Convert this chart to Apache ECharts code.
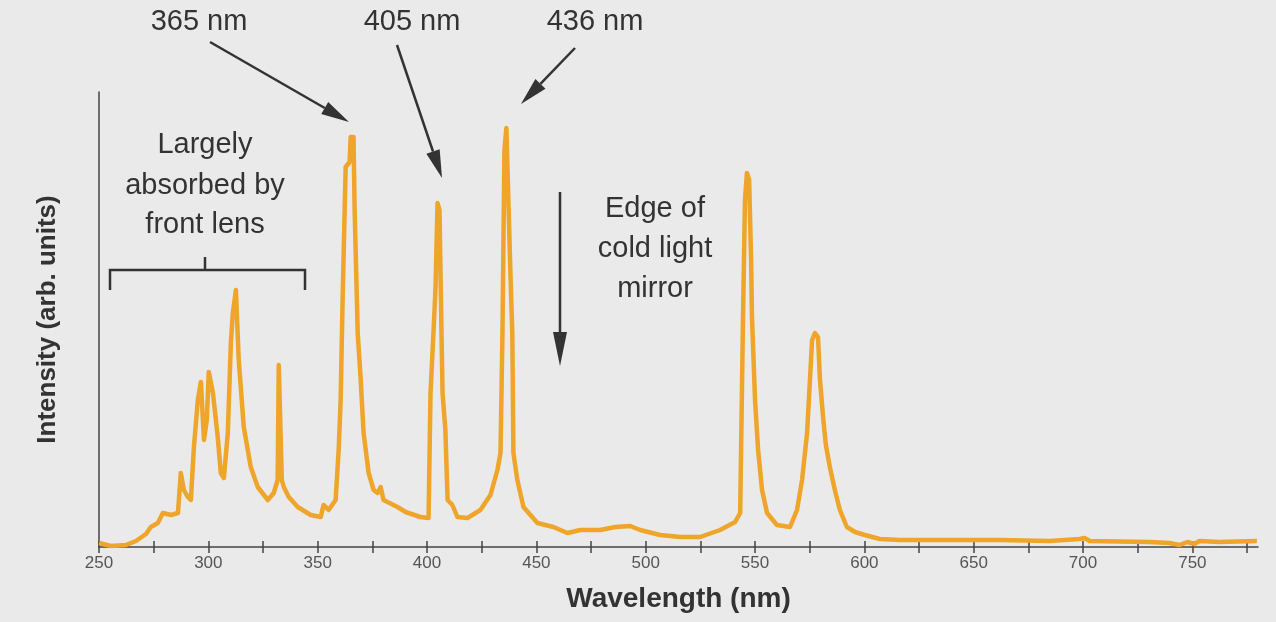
<!DOCTYPE html>
<html>
<head>
<meta charset="utf-8">
<script src="https://cdn.jsdelivr.net/npm/echarts@6/dist/echarts.min.js"></script>
<style>
  html, body { margin: 0; padding: 0; background: #eaeaea; }
  #chart { width: 1276px; height: 622px; }
</style>
</head>
<body>
<div id="chart"></div>
<script>
// wavelength (nm) of each sample
var wavelength = [250, 255.5, 262.3, 266.9, 271.5, 273.7, 276.9, 279.2, 282.9, 286.1, 287.4, 288.8, 290.6, 292, 293.4,
  295.2, 296.6, 298, 299.3, 300.2, 302.1, 304.3, 305.7, 307.1, 308.9, 310.3, 311.2, 312.6, 313.9, 316.2,
  319.4, 322.6, 327.2, 329.9, 331.7, 332.2, 333.6, 334.5, 336.8, 340.9, 346.8, 351.4, 352.7, 355, 358.2,
  359.6, 360.5, 361.4, 362.3, 362.8, 364.6, 365.1, 366.4, 366.9, 368.3, 369.6, 371, 373.3, 375.6, 377.4,
  378.8, 380.1, 386.5, 390.2, 397, 400.7, 401.6, 403, 403.9, 404.8, 405.7, 406.6, 407.1, 408.4, 409.4,
  411.6, 413.9, 418.5, 424.4, 429, 432.2, 433.6, 434.5, 435.4, 436.3, 437.2, 438.1, 439, 439.5, 441.3,
  444.1, 447.3, 450.5, 457.8, 464.2, 470.1, 479.2, 486.1, 492.9, 497.5, 506.6, 515.8, 524.9, 534, 540.9,
  543.2, 544.5, 545.4, 546.3, 547.3, 548.2, 548.6, 550, 551.4, 553.2, 555.5, 560, 566, 569.2, 571.5,
  573.8, 575.6, 576.1, 577.4, 578.8, 579.7, 581.1, 582.4, 584.2, 586.5, 588.8, 592, 595.7, 600.2, 607.1,
  616.2, 639, 661.9, 684.7, 698.4, 700.7, 703, 730.4, 739.5, 744.1, 747.7, 750.9, 753.2, 762.3, 779.5];

// intensity (arb. units) at each wavelength
var intensity = [4, 1, 2, 6, 13, 20, 24, 34, 32, 34, 74, 57, 50, 47, 100,
  147, 165, 107, 127, 175, 154, 110, 74, 69, 114, 204, 234, 257, 187, 120,
  80, 60, 47, 54, 67, 182, 67, 60, 50, 40, 32, 30, 42, 37, 47,
  97, 147, 247, 334, 380, 385, 410, 410, 337, 214, 170, 114, 74, 57, 54,
  60, 47, 40, 35, 30, 29, 154, 217, 260, 344, 337, 217, 154, 117, 47,
  42, 30, 29, 37, 52, 77, 94, 214, 397, 419, 347, 277, 214, 94, 67,
  40, 32, 24, 20, 14, 17, 17, 20, 21, 17, 12, 10, 10, 17, 25,
  34, 230, 347, 374, 367, 287, 230, 147, 97, 57, 34, 22, 20, 37, 67,
  114, 187, 207, 214, 210, 167, 130, 102, 80, 57, 37, 20, 15, 12, 8,
  7, 7, 7, 6, 8, 9, 6, 5, 4, 2, 5, 3, 6, 5, 6];

var tickValues = [250, 275, 300, 325, 350, 375, 400, 425, 450, 475, 500, 525, 550, 575, 600, 625, 650, 675, 700, 725, 750, 775];
var labelValues = [250, 300, 350, 400, 450, 500, 550, 600, 650, 700, 750];

var ink = '#333333';
var txtFont = "'Liberation Sans Narrow', 'Liberation Sans', Arial, sans-serif";

function arrow(x1, y1, x2, y2, headLen, headW) {
  var dx = x2 - x1, dy = y2 - y1;
  var len = Math.sqrt(dx * dx + dy * dy);
  var ux = dx / len, uy = dy / len;
  var bx = x2 - ux * headLen, by = y2 - uy * headLen;
  return [
    { type: 'line', shape: { x1: x1, y1: y1, x2: bx, y2: by }, style: { stroke: ink, lineWidth: 2.5 } },
    { type: 'polygon', shape: { points: [[x2, y2], [bx - uy * headW / 2, by + ux * headW / 2], [bx + uy * headW / 2, by - ux * headW / 2]] },
      style: { fill: ink } }
  ];
}

function label(x, y, t) {
  return { type: 'text', x: x, y: y, style: { text: t, font: '29px ' + txtFont, fill: ink, align: 'center', verticalAlign: 'middle' } };
}

var graphics = [].concat(
  arrow(210, 42, 349, 122, 28, 14),
  arrow(397, 45, 442, 178, 28, 14),
  arrow(575, 48, 521, 104, 28, 14),
  arrow(560, 192, 560, 366, 34, 14),
  [
    { type: 'polyline', shape: { points: [[110, 290], [110, 270], [305, 270], [305, 290]] }, style: { stroke: ink, lineWidth: 2.5, fill: null } },
    { type: 'line', shape: { x1: 205, y1: 257, x2: 205, y2: 270 }, style: { stroke: ink, lineWidth: 2.5 } },
    label(199, 22, '365 nm'),
    label(412, 22, '405 nm'),
    label(595, 22, '436 nm'),
    label(205, 145, 'Largely'),
    label(205, 186, 'absorbed by'),
    label(205, 225, 'front lens'),
    label(655, 209, 'Edge of'),
    label(655, 249, 'cold light'),
    label(655, 289, 'mirror')
  ]
);

var data = wavelength.map(function (w, i) { return [w, intensity[i]]; });

var chart = echarts.init(document.getElementById('chart'));
chart.setOption({
  backgroundColor: '#eaeaea',
  animation: false,
  grid: { left: 99, right: 18, top: 92, bottom: 75, containLabel: false, outerBoundsMode: 'none' },
  xAxis: [
    {
      type: 'value',
      min: 250,
      max: 780,
      name: 'Wavelength (nm)',
      nameLocation: 'middle',
      nameGap: 38,
      nameTextStyle: { fontSize: 28, fontWeight: 'bold', color: ink, fontFamily: txtFont },
      splitLine: { show: false },
      axisLine: { lineStyle: { color: '#444', width: 1.5 } },
      axisTick: { customValues: tickValues, length: 6, lineStyle: { color: '#444', width: 1.5 } },
      axisLabel: { customValues: labelValues, color: '#555', fontSize: 17, fontFamily: txtFont, margin: 8 }
    },
    {
      type: 'value',
      min: 250,
      max: 780,
      position: 'bottom',
      splitLine: { show: false },
      axisLine: { show: false },
      axisTick: { inside: true, customValues: tickValues, length: 6, lineStyle: { color: '#444', width: 1.5 } },
      axisLabel: { show: false }
    }
  ],
  yAxis: {
    type: 'value',
    min: 0,
    max: 455,
    name: 'Intensity (arb. units)',
    nameLocation: 'middle',
    nameGap: 38,
    nameRotate: 90,
    nameTextStyle: { fontSize: 26, fontWeight: 'bold', color: ink, fontFamily: txtFont },
    splitLine: { show: false },
    axisLine: { show: true, lineStyle: { color: '#444', width: 1.5 } },
    axisTick: { show: false },
    axisLabel: { show: false }
  },
  series: [{
    type: 'line',
    xAxisIndex: 0,
    data: data,
    showSymbol: false,
    lineStyle: { color: '#efa42a', width: 4.5, join: 'round' },
    clip: false
  }],
  graphic: graphics
});
</script>
</body>
</html>
